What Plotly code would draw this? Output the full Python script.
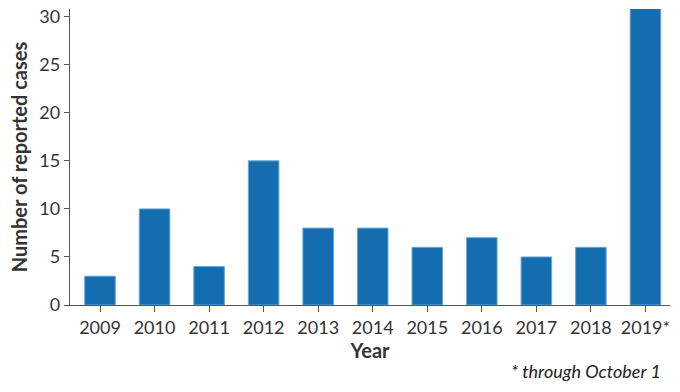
import plotly.graph_objects as go

years = ["2009", "2010", "2011", "2012", "2013", "2014", "2015", "2016", "2017", "2018", "2019*"]
cases = [3, 10, 4, 15, 8, 8, 6, 7, 5, 6, 31]
y_ticks = [0, 5, 10, 15, 20, 25, 30]

fig = go.Figure(go.Bar(
    x=years, y=cases,
    marker=dict(color="#146daf", line=dict(color="#6aa6d8", width=1)),
    width=0.56,
))

fig.update_layout(
    width=680, height=392,
    margin=dict(l=70, r=10, t=9, b=87),
    plot_bgcolor="white", paper_bgcolor="white",
    font=dict(family="Lato", color="#333333", size=18),
    showlegend=False,
)
fig.update_xaxes(
    type="category", range=[-0.55, 10.45], automargin=False,
    showline=True, linecolor="#555555", linewidth=1.3,
    ticks="outside", ticklen=6, tickcolor="#555555",
    tickfont=dict(size=18, color="#333333"),
    title=dict(text="<b>Year</b>", font=dict(size=20, color="#333333"), standoff=6),
    showgrid=False,
)
fig.update_yaxes(
    range=[0, 30.8], tickvals=y_ticks, automargin=False,
    showline=True, linecolor="#555555", linewidth=1.3,
    ticks="outside", ticklen=5, tickcolor="#555555",
    tickfont=dict(size=18, color="#333333"),
    title=dict(text="<b>Number of reported cases</b>", font=dict(size=20, color="#333333"), standoff=6),
    showgrid=False, zeroline=False,
)
fig.add_annotation(
    text="<i>* through October 1</i>", xref="paper", yref="paper",
    x=1.0, y=0, yshift=-66, xshift=-7, xanchor="right", yanchor="middle",
    showarrow=False, font=dict(size=18, color="#222222"),
)

fig.write_html(
    "out.html",
    config={"displayModeBar": False},
    post_script="document.body.style.margin='0';document.body.style.overflow='hidden';",
)
